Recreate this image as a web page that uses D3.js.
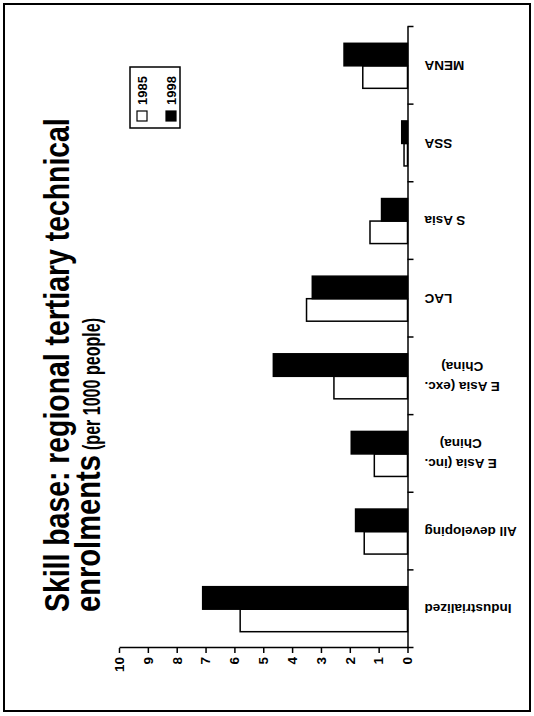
<!DOCTYPE html>
<html>
<head>
<meta charset="utf-8">
<script src="https://cdn.jsdelivr.net/npm/d3@7"></script>
<style>
  body { margin: 0; background: #fff; }
  svg { display: block; }
</style>
</head>
<body>
<script>
// Regional tertiary technical enrolments, per 1000 people
const categories = ["Industrialized", "All developing", "E Asia (inc. China)", "E Asia (exc. China)", "LAC", "S Asia", "SSA", "MENA"];
const categoryLines = [["Industrialized"], ["All developing"], ["E Asia (inc.", "China)"], ["E Asia (exc.", "China)"], ["LAC"], ["S Asia"], ["SSA"], ["MENA"]];
const years = ["1985", "1998"];
const values1985 = [5.8, 1.5, 1.15, 2.55, 3.5, 1.3, 0.12, 1.55];
const values1998 = [7.1, 1.8, 1.95, 4.65, 3.3, 0.9, 0.2, 2.2];
const valueTicks = [0, 1, 2, 3, 4, 5, 6, 7, 8, 9, 10];
const titleLine1 = "Skill base: regional tertiary technical";
const titleLine2a = "enrolments";
const titleLine2b = "(per 1000 people)";

const W = 534, H = 716;
const sans = "'Liberation Sans', Arial, Helvetica, sans-serif";

const svg = d3.select("body").append("svg")
  .attr("width", W).attr("height", H);

// The page is laid out landscape (716 wide, 534 tall) and turned a quarter-turn
const page = svg.append("g").attr("transform", `translate(0,${H}) rotate(-90)`);

// Frame
page.append("rect")
  .attr("x", 5).attr("y", 4).attr("width", 707).attr("height", 526)
  .attr("fill", "none").attr("stroke", "#000").attr("stroke-width", 2);

const rows = categories.map((c, i) => ({ cat: c, lines: categoryLines[i], v: { "1985": values1985[i], "1998": values1998[i] } }));

const x = d3.scaleBand().domain(categories).range([68, 689]).paddingInner(0.42).paddingOuter(0.21);
const x1 = d3.scaleBand().domain(years).range([0, x.bandwidth()]);
const y = d3.scaleLinear().domain([0, 10]).range([407.5, 119]);
const boundary = d3.scaleLinear().domain([0, categories.length]).range([68, 689]);

// Bars
const groups = page.append("g").selectAll("g").data(rows).join("g")
  .attr("transform", d => `translate(${x(d.cat)},0)`);
groups.selectAll("rect").data(d => years.map(yr => ({ yr, val: d.v[yr] }))).join("rect")
  .attr("x", d => x1(d.yr))
  .attr("width", x1.bandwidth())
  .attr("y", d => y(d.val))
  .attr("height", d => y(0) - y(d.val))
  .attr("fill", d => d.yr === "1985" ? "#fff" : "#000")
  .attr("stroke", "#000")
  .attr("stroke-width", 1.5);

// Value axis
const yAxis = page.append("g").attr("transform", "translate(68,0)")
  .call(d3.axisLeft(y).tickValues(valueTicks).tickSize(5).tickSizeOuter(0).tickPadding(4));
yAxis.selectAll("text").attr("font-family", sans).attr("font-size", 13.5).attr("font-weight", "bold").attr("fill", "#000");
yAxis.selectAll("path,line").attr("stroke", "#000").attr("stroke-width", 1.5);

// Category axis (tick marks at category boundaries)
const xAxis = page.append("g").attr("transform", `translate(0,${y(0)})`)
  .call(d3.axisBottom(boundary).tickValues(d3.range(categories.length + 1)).tickFormat("").tickSize(6).tickSizeOuter(0));
xAxis.selectAll("path,line").attr("stroke", "#000").attr("stroke-width", 1.5);

// Category labels, set vertically under the axis
const lineGap = 20;
const labels = page.append("g").selectAll("g").data(rows).join("g")
  .attr("transform", d => `translate(${x(d.cat) + x.bandwidth() / 2},${y(0) + 17}) rotate(-90)`);
labels.each(function (d) {
  const g = d3.select(this);
  const n = d.lines.length;
  const texts = g.selectAll("text").data(d.lines).join("text")
    .attr("font-family", sans).attr("font-size", 13.5).attr("font-weight", "bold")
    .attr("fill", "#000")
    .attr("text-anchor", "middle")
    .attr("dy", "0.35em")
    .attr("y", (t, i) => (i - (n - 1) / 2) * lineGap)
    .text(t => t);
  const maxW = d3.max(texts.nodes(), nd => nd.getComputedTextLength());
  texts.attr("x", -maxW / 2);
});

// Legend
const legend = page.append("g");
legend.append("rect")
  .attr("x", 588).attr("y", 130).attr("width", 61).attr("height", 50)
  .attr("fill", "#fff").attr("stroke", "#000").attr("stroke-width", 1.5);
const legRows = legend.selectAll("g").data(years).join("g")
  .attr("transform", (d, i) => `translate(595,${137 + i * 29})`);
legRows.append("rect")
  .attr("width", 10).attr("height", 10)
  .attr("fill", d => d === "1985" ? "#fff" : "#000")
  .attr("stroke", "#000").attr("stroke-width", 1.2);
legRows.append("text")
  .attr("x", 16).attr("y", 10)
  .attr("font-family", sans).attr("font-size", 13).attr("font-weight", "bold")
  .text(d => d);

// Title, squeezed horizontally into a condensed bold look
function condensedText(str, left, baseline, size, width) {
  const g = page.append("g");
  const t = g.append("text")
    .attr("font-family", sans).attr("font-size", size).attr("font-weight", "bold")
    .text(str);
  const natural = t.node().getComputedTextLength();
  g.attr("transform", `translate(${left},${baseline}) scale(${width / natural},1)`);
}
condensedText(titleLine1, 104, 69, 36, 494);
condensedText(titleLine2a, 104, 100, 35, 157);
condensedText(titleLine2b, 266, 100, 23, 132);
</script>
</body>
</html>
